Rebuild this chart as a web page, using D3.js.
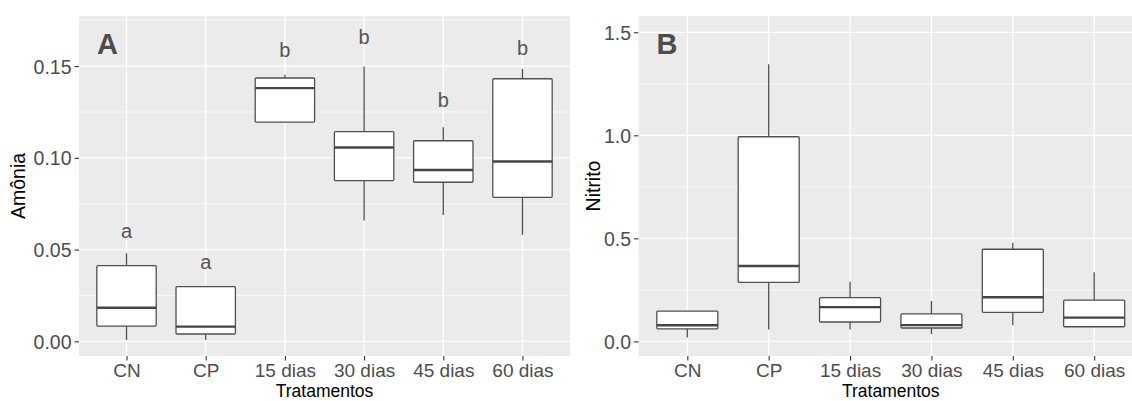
<!DOCTYPE html>
<html>
<head>
<meta charset="utf-8">
<script src="https://cdn.jsdelivr.net/npm/d3@7/dist/d3.min.js"></script>
<style>
  html, body { margin: 0; padding: 0; background: #fff; }
  svg { display: block; font-family: "Liberation Sans", Arial, sans-serif; }
</style>
</head>
<body>
<svg id="chart" width="1132" height="401"></svg>
<script>
// ---- Data ----
const categories = ["CN", "CP", "15 dias", "30 dias", "45 dias", "60 dias"];

// Amônia (panel A)
const amoniaLow    = [0.0007, 0.0007, 0.1195, 0.0658, 0.0689, 0.058];
const amoniaQ1     = [0.0083, 0.0040, 0.1195, 0.0876, 0.0867, 0.0785];
const amoniaMedian = [0.0183, 0.0080, 0.1380, 0.1056, 0.0934, 0.0980];
const amoniaQ3     = [0.0412, 0.0298, 0.1435, 0.1143, 0.1093, 0.1431];
const amoniaHigh   = [0.0480, 0.0298, 0.1453, 0.1498, 0.1167, 0.1485];
const amoniaLetters = ["a", "a", "b", "b", "b", "b"];
const amoniaLetterY = [0.059, 0.0425, 0.159, 0.166, 0.1316, 0.160];
const amoniaTicks = [0.00, 0.05, 0.10, 0.15];

// Nitrito (panel B)
const nitritoLow    = [0.019, 0.058, 0.058, 0.035, 0.078, 0.068];
const nitritoQ1     = [0.061, 0.286, 0.094, 0.065, 0.141, 0.071];
const nitritoMedian = [0.078, 0.366, 0.166, 0.079, 0.214, 0.115];
const nitritoQ3     = [0.147, 0.993, 0.212, 0.133, 0.447, 0.200];
const nitritoHigh   = [0.147, 1.345, 0.289, 0.196, 0.479, 0.335];
const nitritoTicks = [0.0, 0.5, 1.0, 1.5];

const svg = d3.select("#chart");

function panel(opt) {
  const { left, right, top, bottom, yDomain, ticks, minor, fmt, low, q1, med, q3, high,
          letters, letterY, tag, yTitle, yTitleX } = opt;
  const g = svg.append("g");
  const x = d3.scalePoint().domain(categories).range([left, right]).padding(0.6);
  const y = d3.scaleLinear().domain(yDomain).range([bottom, top]);
  const bw = x.step() * 0.75;

  // background
  g.append("rect").attr("x", left).attr("y", top)
    .attr("width", right - left).attr("height", bottom - top).attr("fill", "#EBEBEB");

  // minor grid
  g.selectAll(".minor").data(minor).join("line")
    .attr("x1", left).attr("x2", right)
    .attr("y1", d => y(d)).attr("y2", d => y(d))
    .attr("stroke", "#fff").attr("stroke-width", 0.7);
  // major grid
  g.selectAll(".majorY").data(ticks).join("line")
    .attr("x1", left).attr("x2", right)
    .attr("y1", d => y(d)).attr("y2", d => y(d))
    .attr("stroke", "#fff").attr("stroke-width", 1.3);
  g.selectAll(".majorX").data(categories).join("line")
    .attr("x1", d => x(d)).attr("x2", d => x(d))
    .attr("y1", top).attr("y2", bottom)
    .attr("stroke", "#fff").attr("stroke-width", 1.3);

  const idx = d3.range(categories.length);
  const col = "#505050";
  // whiskers
  g.selectAll(".wU").data(idx).join("line")
    .attr("x1", i => x(categories[i])).attr("x2", i => x(categories[i]))
    .attr("y1", i => y(q3[i])).attr("y2", i => y(high[i]))
    .attr("stroke", col).attr("stroke-width", 1.3);
  g.selectAll(".wL").data(idx).join("line")
    .attr("x1", i => x(categories[i])).attr("x2", i => x(categories[i]))
    .attr("y1", i => y(q1[i])).attr("y2", i => y(low[i]))
    .attr("stroke", col).attr("stroke-width", 1.3);
  // boxes
  g.selectAll(".box").data(idx).join("rect")
    .attr("x", i => x(categories[i]) - bw / 2)
    .attr("width", bw)
    .attr("y", i => y(q3[i]))
    .attr("height", i => Math.max(0, y(q1[i]) - y(q3[i])))
    .attr("rx", 1)
    .attr("fill", "#fff").attr("stroke", col).attr("stroke-width", 1.3)
    .attr("stroke-linejoin", "round");
  // medians
  g.selectAll(".med").data(idx).join("line")
    .attr("x1", i => x(categories[i]) - bw / 2).attr("x2", i => x(categories[i]) + bw / 2)
    .attr("y1", i => y(med[i])).attr("y2", i => y(med[i]))
    .attr("stroke", "#454545").attr("stroke-width", 2.4);

  // letters
  if (letters) {
    g.selectAll(".let").data(idx).join("text")
      .attr("x", i => x(categories[i]))
      .attr("y", i => y(letterY[i]))
      .attr("dy", i => letters[i] === "b" ? "0.36em" : "0.27em")
      .attr("text-anchor", "middle")
      .attr("font-size", 20).attr("fill", "#555")
      .text(i => letters[i]);
  }

  // tag
  g.append("text").attr("x", left + 18).attr("y", 54.3)
    .attr("font-size", 29).attr("font-weight", "bold").attr("fill", "#4d4d4d")
    .text(tag);

  // y axis
  const ya = d3.axisLeft(y).tickValues(ticks).tickFormat(d3.format(fmt)).tickSize(4.5).tickPadding(3);
  const yg = g.append("g").attr("transform", `translate(${left},0)`).call(ya);
  yg.select(".domain").remove();
  yg.selectAll(".tick line").attr("stroke", "#333").attr("stroke-width", 1.1);
  yg.selectAll(".tick text").attr("font-size", 19.5).attr("fill", "#4d4d4d")
    .attr("font-family", "Liberation Sans, Arial, sans-serif").attr("dy", "0.36em");

  // x axis
  const xa = d3.axisBottom(x).tickSize(4.5).tickPadding(3);
  const xg = g.append("g").attr("transform", `translate(0,${bottom})`).call(xa);
  xg.select(".domain").remove();
  xg.selectAll(".tick line").attr("stroke", "#333").attr("stroke-width", 1.1);
  xg.selectAll(".tick text").attr("font-size", 19).attr("fill", "#4d4d4d")
    .attr("font-family", "Liberation Sans, Arial, sans-serif")
    .attr("y", 21).attr("dy", 0);

  // axis titles
  g.append("text").attr("x", (left + right) / 2).attr("y", 397.2)
    .attr("text-anchor", "middle").attr("font-size", 17.5).attr("fill", "#000")
    .text("Tratamentos");
  g.append("text")
    .attr("transform", `translate(${yTitleX},${(top + bottom) / 2}) rotate(-90)`)
    .attr("text-anchor", "middle").attr("font-size", 19.5).attr("fill", "#000")
    .text(yTitle);
}

panel({
  left: 79, right: 570, top: 16, bottom: 356,
  yDomain: [-0.008, 0.1773], ticks: amoniaTicks, minor: [0.025, 0.075, 0.125, 0.175], fmt: ".2f",
  low: amoniaLow, q1: amoniaQ1, med: amoniaMedian, q3: amoniaQ3, high: amoniaHigh,
  letters: amoniaLetters, letterY: amoniaLetterY, tag: "A", yTitle: "Amônia", yTitleX: 25
});
panel({
  left: 638.5, right: 1143, top: 16, bottom: 356,
  yDomain: [-0.071, 1.579], ticks: nitritoTicks, minor: [0.25, 0.75, 1.25], fmt: ".1f",
  low: nitritoLow, q1: nitritoQ1, med: nitritoMedian, q3: nitritoQ3, high: nitritoHigh,
  letters: null, letterY: null, tag: "B", yTitle: "Nitrito", yTitleX: 600
});
</script>
</body>
</html>
